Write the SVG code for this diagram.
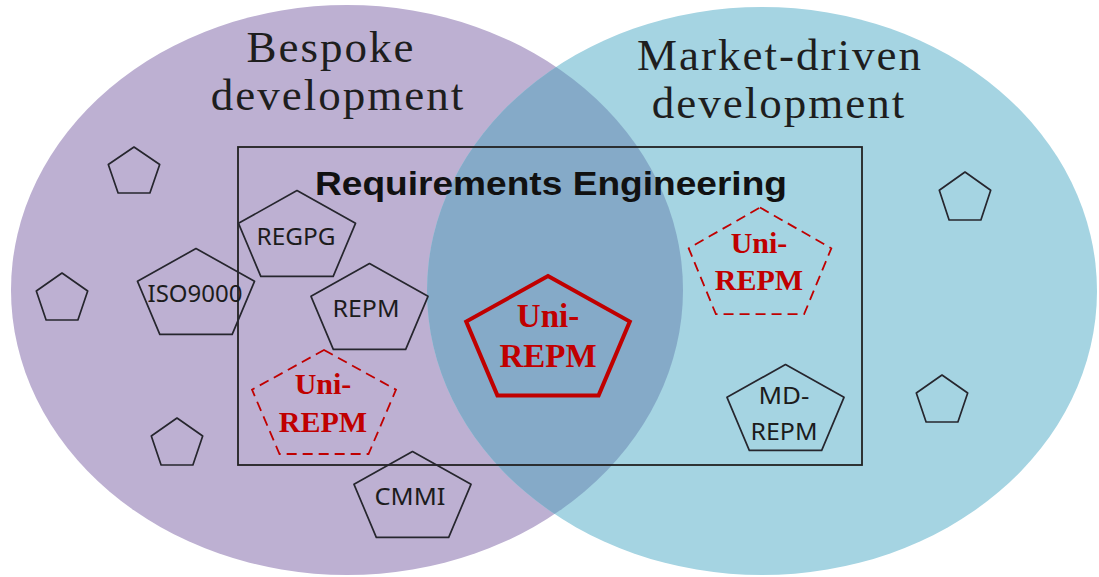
<svg xmlns="http://www.w3.org/2000/svg" width="1099" height="577" viewBox="0 0 1099 577">
<style>
.title{font-family:"Liberation Serif",serif;font-size:45px;fill:#1e1e1e;letter-spacing:2px;text-anchor:middle}
.lbl{font-family:"Noto Sans","Liberation Sans",sans-serif;font-size:23.5px;fill:#1c1c1c;text-anchor:middle}
.re{font-family:"Liberation Sans",sans-serif;font-size:34px;font-weight:bold;fill:#111}
.uni{font-family:"Liberation Serif",serif;font-weight:bold;fill:#c00000;text-anchor:middle}
.pent{fill:none;stroke:#26262e;stroke-width:1.7;stroke-linejoin:round}
.dash{fill:none;stroke:#c00000;stroke-width:1.8;stroke-dasharray:10 6}
.solid{fill:none;stroke:#c00000;stroke-width:4;stroke-linejoin:miter}
</style>
<defs>
<clipPath id="clipL"><ellipse cx="347" cy="290" rx="336" ry="285"/></clipPath>
</defs>
<rect width="1099" height="577" fill="#ffffff"/>
<g id="bespoke-set">
<ellipse cx="347" cy="290" rx="336" ry="285" fill="#bdb0d2"/>
</g>
<g id="market-set">
<ellipse cx="762" cy="291" rx="335" ry="284" fill="#a5d4e2"/>
<ellipse cx="762" cy="291" rx="335" ry="284" fill="#85aac8" clip-path="url(#clipL)"/>
</g>
<g id="titles">
<text class="title" x="331" y="62">Bespoke</text>
<text class="title" x="338" y="110">development</text>
<text class="title" x="780" y="70">Market-driven</text>
<text class="title" x="779" y="118">development</text>
</g>
<g id="re-box">
<rect x="238" y="147" width="624" height="318" fill="none" stroke="#222" stroke-width="1.8"/>
<text class="re" x="315" y="195" textLength="472" lengthAdjust="spacingAndGlyphs">Requirements Engineering</text>
</g>
<g id="small-pentagons">
<polygon class="pent" points="134,147 159.7,164.5 149.9,193 118.1,193 108.3,164.5"/>
<polygon class="pent" points="62,273 87.7,291 77.9,320 46.1,320 36.3,291"/>
<polygon class="pent" points="177,418 202.7,436 192.9,465 161.1,465 151.3,436"/>
<polygon class="pent" points="965,172 990.7,190.3 980.9,220 949.1,220 939.3,190.3"/>
<polygon class="pent" points="942,375 967.7,393 957.9,422 926.1,422 916.3,393"/>
</g>
<g id="regpg">
<polygon class="pent" points="297,190.5 355.5,223.3 333.2,276.4 260.8,276.4 238.5,223.3"/>
<text class="lbl" x="296" y="245" textLength="79" lengthAdjust="spacingAndGlyphs">REGPG</text>
</g>
<g id="iso9000">
<polygon class="pent" points="196,248.5 254.5,281.3 232.2,334.4 159.8,334.4 137.5,281.3"/>
<text class="lbl" x="195" y="302" textLength="95" lengthAdjust="spacingAndGlyphs">ISO9000</text>
</g>
<g id="repm">
<polygon class="pent" points="369.5,263.5 428,296.3 405.7,349.4 333.3,349.4 311,296.3"/>
<text class="lbl" x="366" y="317" textLength="67" lengthAdjust="spacingAndGlyphs">REPM</text>
</g>
<g id="cmmi">
<polygon class="pent" points="412.5,451.5 471,484.3 448.7,537.4 376.3,537.4 354,484.3"/>
<text class="lbl" x="410" y="505" textLength="71" lengthAdjust="spacingAndGlyphs">CMMI</text>
</g>
<g id="md-repm">
<polygon class="pent" points="785.5,364.5 844,397.3 821.7,450.4 749.3,450.4 727,397.3"/>
<text class="lbl" x="784" y="404" textLength="51" lengthAdjust="spacingAndGlyphs">MD-</text>
<text class="lbl" x="784" y="440" textLength="67" lengthAdjust="spacingAndGlyphs">REPM</text>
</g>
<g id="uni-repm-center">
<polygon class="solid" points="548,276 629.8,321.6 598.6,395.4 497.4,395.4 466.2,321.6"/>
<text class="uni" x="548" y="327" font-size="33">Uni-</text>
<text class="uni" x="548" y="367" font-size="33">REPM</text>
</g>
<g id="uni-repm-left">
<polygon class="dash" points="324,350 396,389.7 368.5,454 279.5,454 252,389.7"/>
<text class="uni" x="323" y="394" font-size="30">Uni-</text>
<text class="uni" x="323" y="432" font-size="30">REPM</text>
</g>
<g id="uni-repm-right">
<polygon class="dash" points="760,207.5 831.3,248.3 804.1,314.2 715.9,314.2 688.7,248.3"/>
<text class="uni" x="759" y="253" font-size="30">Uni-</text>
<text class="uni" x="759" y="290" font-size="30">REPM</text>
</g>
<g id="connectors"></g>
</svg>
